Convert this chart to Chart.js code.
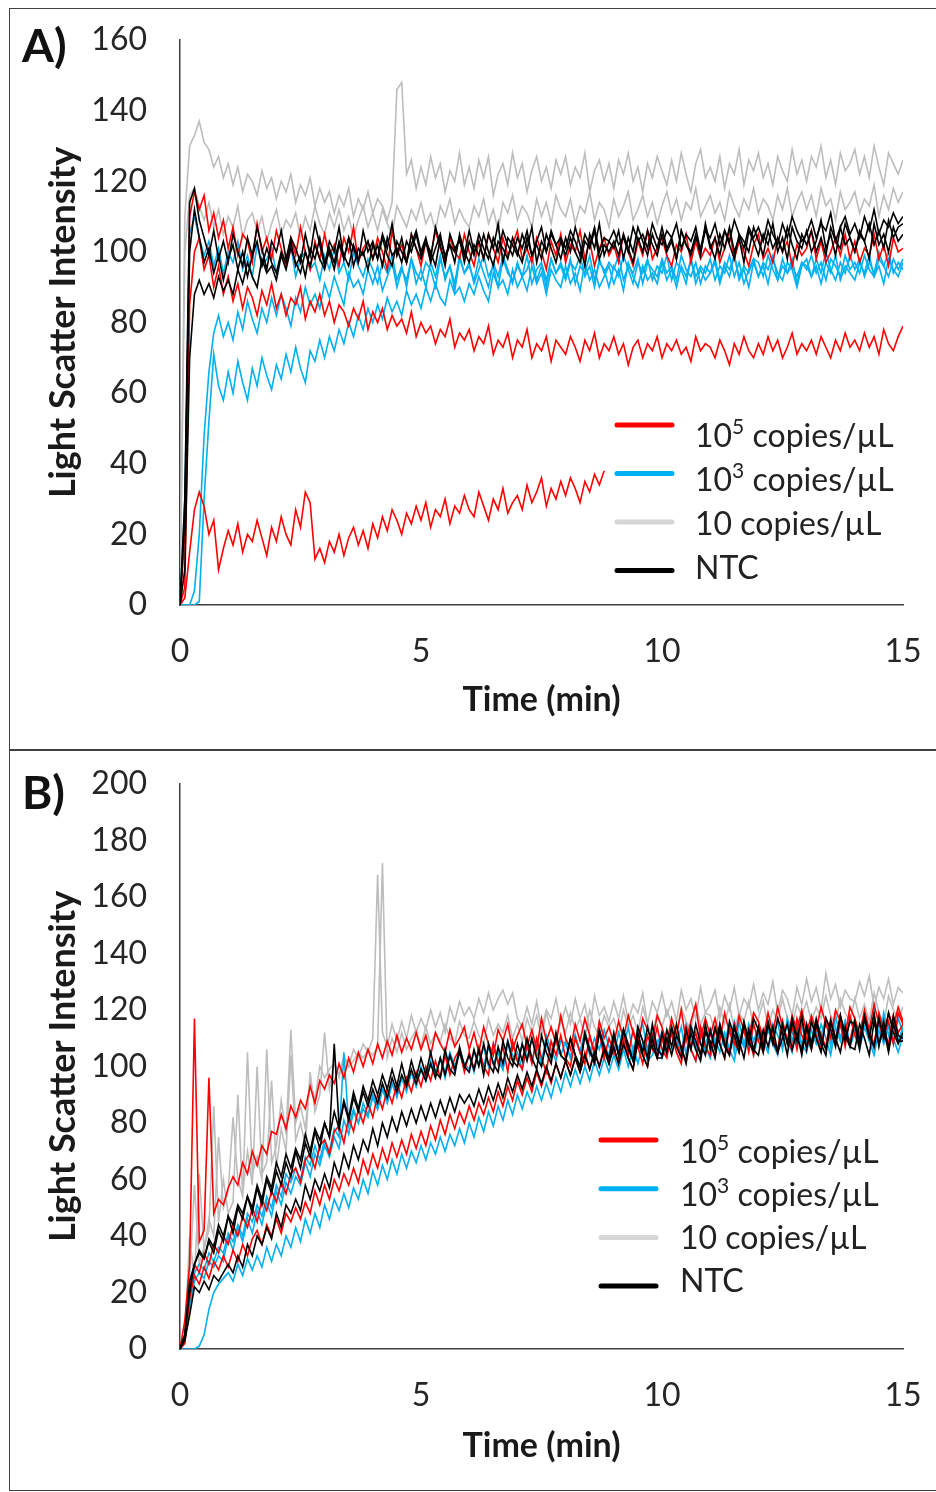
<!DOCTYPE html>
<html>
<head>
<meta charset="utf-8">
<script src="https://cdn.jsdelivr.net/npm/chart.js@4/dist/chart.umd.min.js"></script>
<style>
  body { margin: 0; width: 936px; height: 1492px; position: relative; background: #fff; overflow: hidden; font-family: Lato, "Open Sans", sans-serif; }
  .panel { position: absolute; left: 9px; width: 940px; border: 1.5px solid #404040; box-sizing: border-box; }
  .tag { position: absolute; left: 22px; font-size: 46px; font-weight: bold; line-height: 46px; color: #111; }
  canvas { position: absolute; left: 0; }
</style>
</head>
<body>
<div class="panel" style="top:8px;height:743px"></div>
<div class="panel" style="top:749px;height:742px"></div>
<canvas id="chartA" width="936" height="750" style="top:0"></canvas>
<canvas id="chartB" width="936" height="742" style="top:750px"></canvas>
<div class="tag" style="top:22px">A)</div>
<div class="tag" style="top:769px">B)</div>
<script>
// ---------------------------------------------------------------------------
// Light scatter intensity vs time, two panels (A and B), four sample groups.
// One reading every 0.1 min from 0 to 15 min (151 readings per trace).
// ---------------------------------------------------------------------------

const T_STEP = 0.1;
const N_PTS = 151;
const TIME = Array.from({ length: N_PTS }, (_, i) => Math.round(i * T_STEP * 10) / 10);

const X_TICKS = [0, 5, 10, 15];
const A_Y_TICKS = [0, 20, 40, 60, 80, 100, 120, 140, 160];
const B_Y_TICKS = [0, 20, 40, 60, 80, 100, 120, 140, 160, 180, 200];

const LEGEND_LABELS = ["10^5 copies/µL", "10^3 copies/µL", "10 copies/µL", "NTC"];

// ===== Panel A =====
// 10 copies/µL
const A_GRAY_1 = [
  0,110,130,133,137,131,129,124,127,121,
  125,119,124,117,122,120,116,123,118,121,
  115,120,117,122,114,119,116,121,113,118,
  114,117,111,116,113,118,110,115,112,117,
  111,115,113,109,114,146,148,122,126,118,
  124,119,127,121,125,117,123,120,128,119,
  124,118,126,121,127,116,122,125,119,128,
  121,125,117,123,127,120,124,118,126,122,
  127,119,124,121,128,117,123,126,120,125,
  118,126,122,128,120,124,117,125,121,127,
  123,119,126,120,128,122,117,125,129,121,
  124,120,127,118,125,122,129,119,126,123,
  128,121,125,119,127,123,120,129,122,126,
  120,127,124,130,121,126,119,128,123,125,
  129,122,127,121,130,124,119,128,125,122,
  126];
const A_GRAY_2 = [
  0,100,116,118,113,109,114,107,112,105,
  110,107,113,104,109,111,106,110,103,108,
  112,105,109,107,111,104,110,106,113,108,
  105,111,107,112,106,110,104,109,113,107,
  111,106,112,108,105,113,110,107,112,109,
  114,108,111,106,113,110,115,108,112,109,
  107,113,110,115,108,112,106,114,111,116,
  109,113,111,107,115,110,114,108,116,112,
  110,115,108,113,111,117,109,114,112,107,
  115,110,113,117,109,112,116,110,114,108,
  113,117,111,115,109,114,112,118,110,113,
  116,111,114,109,117,113,110,115,112,118,
  111,115,113,109,116,112,118,110,114,117,
  112,116,110,118,113,115,109,117,112,114,
  117,111,115,113,119,110,116,112,118,114,
  117];
// 10^5 copies/µL
const A_RED_1 = [
  0,20,110,117,112,116,106,111,104,109,
  101,107,99,105,103,97,108,100,104,98,
  106,101,96,104,99,107,100,95,103,98,
  105,99,102,96,104,100,107,97,101,103,
  98,104,100,95,106,99,102,97,105,101,
  96,103,99,106,101,97,104,100,98,105,
  100,96,103,98,105,101,97,104,99,102,
  106,98,101,97,104,100,95,103,99,105,
  97,102,100,106,98,103,96,101,104,99,
  102,97,105,100,96,103,99,106,98,101,
  104,99,96,102,100,105,97,103,98,101,
  99,104,97,101,106,98,103,100,96,102,
  105,98,101,97,104,100,103,96,102,99,
  101,106,98,103,97,100,104,99,105,98,
  103,97,101,99,105,98,102,96,104,100,
  101];
const A_RED_2 = [
  0,5,85,100,104,95,99,90,96,88,
  93,86,91,84,90,87,82,89,85,91,
  84,88,82,87,85,90,81,86,83,88,
  82,86,80,85,83,79,84,81,86,78,
  83,80,84,78,82,79,81,77,83,76,
  80,77,79,74,78,76,81,73,77,75,
  78,72,76,74,79,71,75,73,77,70,
  75,73,78,70,74,72,76,69,75,73,
  71,76,73,69,75,72,77,70,74,72,
  76,71,74,68,73,75,70,74,72,76,
  70,74,72,75,71,73,69,76,72,74,
  73,70,75,72,68,74,71,76,72,70,
  74,71,76,72,75,70,73,77,71,74,
  72,75,71,76,73,70,75,72,77,73,
  75,72,77,73,76,71,78,74,72,76,
  79];
// this trace stops at 8.8 min
const A_RED_3 = [
  0,2,15,27,32,28,20,24,10,16,
  21,17,23,15,20,18,24,19,14,22,
  18,25,20,17,27,22,32,29,13,16,
  12,18,15,20,14,19,22,17,21,16,
  23,19,25,21,27,24,20,26,23,28,
  24,29,22,27,25,30,23,28,26,31,
  27,25,32,28,24,30,27,33,26,29,
  31,27,34,29,32,36,28,33,30,35,
  31,36,33,29,35,32,37,34,38,
].concat(Array(62).fill(null));
// 10^3 copies/µL
const A_BLUE_1 = [
  0,30,105,110,104,99,103,96,101,94,
  100,97,103,95,99,93,102,96,98,101,
  94,99,96,102,93,98,100,95,97,92,
  99,95,101,94,97,92,100,96,93,98,
  95,91,97,94,99,92,96,90,98,94,
  92,97,95,90,98,93,96,91,99,94,
  96,92,98,94,90,97,93,99,95,91,
  97,93,95,99,92,96,90,98,94,97,
  93,98,91,96,94,99,92,97,95,90,
  96,93,99,95,91,97,94,98,92,96,
  94,99,92,97,95,91,98,93,96,94,
  98,92,96,94,99,93,97,91,95,98,
  93,97,95,99,92,96,94,98,91,97,
  96,93,98,94,100,95,92,97,94,99,
  95,98,93,97,94,100,96,93,98,95,
  98];
const A_BLUE_2 = [
  0,0,0,4,20,48,66,77,82,76,
  80,75,83,78,86,81,77,84,80,87,
  82,88,84,79,87,83,90,85,88,84,
  91,87,93,89,85,94,90,92,88,95,
  91,96,89,93,97,90,95,92,98,91,
  95,90,97,93,99,92,96,89,98,94,
  97,91,95,99,93,96,90,98,94,92,
  96,93,99,91,95,97,92,98,94,96,
  92,97,95,99,93,96,90,98,94,97,
  95,99,92,96,94,98,91,97,95,93,
  98,94,96,92,99,95,93,97,91,96,
  94,98,92,97,95,99,93,96,94,98,
  97,93,99,95,92,98,94,96,93,97,
  95,99,94,97,92,98,96,93,99,95,
  97,94,99,95,93,98,96,100,94,97,
  95];
const A_BLUE_3 = [
  0,0,0,0,1,30,52,71,62,58,
  66,60,69,63,58,67,62,70,65,61,
  68,64,71,66,73,67,63,72,69,75,
  70,76,72,78,74,80,76,82,78,84,
  80,85,81,87,83,86,82,89,85,88,
  84,90,86,91,87,85,92,88,90,86,
  91,88,93,89,86,94,90,92,88,95,
  90,93,89,96,91,94,88,95,92,90,
  96,91,94,89,97,92,95,90,93,96,
  91,95,89,97,93,90,96,92,94,91,
  97,92,95,90,96,93,98,91,95,92,
  94,97,91,96,93,99,92,95,90,97,
  93,96,91,98,94,92,97,95,90,96,
  98,93,96,91,97,94,99,92,96,94,
  92,97,94,99,93,96,91,98,95,93,
  97];
// NTC
const A_BLACK_1 = [
  0,30,114,118,109,104,99,106,98,103,
  97,105,100,96,104,99,107,101,95,103,
  100,106,98,104,101,97,105,99,108,102,
  96,103,100,107,98,104,101,97,106,100,
  103,98,105,101,108,99,104,97,102,106,
  100,104,98,107,102,96,105,101,103,99,
  106,100,103,98,105,101,108,97,104,102,
  99,105,101,107,97,103,100,106,102,98,
  104,100,107,102,96,105,101,108,99,103,
  101,106,98,104,100,107,103,99,105,101,
  107,101,104,98,106,102,100,105,99,108,
  102,98,105,101,107,100,104,97,106,103,
  99,105,102,108,100,104,98,107,103,101,
  106,100,103,109,101,105,99,107,102,104,
  100,106,103,98,108,102,105,100,107,103,
  105];
const A_BLACK_2 = [
  0,10,70,88,92,88,91,87,93,89,
  92,88,95,91,97,93,90,98,94,96,
  92,99,95,101,97,94,100,96,102,98,
  95,101,97,103,99,96,102,98,100,95,
  102,98,104,99,96,103,100,97,105,101,
  98,103,100,96,104,99,102,97,105,100,
  97,102,99,105,100,96,103,101,98,104,
  100,97,104,99,102,98,105,101,97,103,
  99,104,100,97,103,101,106,98,102,100,
  103,99,105,101,97,104,100,106,102,99,
  105,100,103,98,106,102,99,104,101,107,
  101,104,99,106,102,98,105,103,100,107,
  103,99,106,101,104,100,107,102,98,105,
  102,106,100,104,99,107,103,101,108,104,
  100,105,103,108,102,106,101,109,104,107,
  108];
const A_BLACK_3 = [
  0,25,100,112,104,97,101,94,99,92,
  98,102,95,100,93,99,103,96,101,97,
  94,100,97,103,96,99,93,101,98,104,
  97,100,95,102,98,104,96,101,99,103,
  98,102,96,104,99,101,97,103,100,105,
  99,103,97,101,105,98,102,100,104,97,
  103,99,105,101,98,104,100,106,102,99,
  104,101,106,99,103,107,100,105,102,104,
  101,106,103,99,105,102,107,100,104,103,
  106,102,104,100,107,103,105,101,108,104,
  102,106,104,108,101,105,103,107,100,106,
  104,108,102,106,103,109,105,101,107,104,
  107,103,109,105,102,108,104,110,106,103,
  105,109,104,108,106,111,103,107,110,105,
  108,104,110,106,112,105,109,107,111,108,
  110];

// ===== Panel B =====
const B_GRAY_1 = [
  0,5,25,58,30,36,42,86,45,60,
  48,52,90,55,70,58,100,62,66,95,
  64,78,70,104,74,80,72,98,84,90,
  112,92,102,96,104,100,106,103,108,105,
  110,168,112,107,115,109,116,110,118,112,
  117,113,120,114,119,112,121,116,123,118,
  121,117,124,119,126,120,124,127,122,126,
  117,114,121,115,123,113,120,117,124,115,
  121,115,124,117,122,113,125,118,121,116,
  123,117,125,116,122,119,126,115,123,119,
  126,118,123,116,127,120,124,117,128,119,
  122,127,117,125,120,128,118,124,121,129,
  120,126,122,130,119,127,124,118,128,122,
  131,123,128,120,133,124,129,121,127,124,
  123,130,125,132,121,128,124,131,122,128,
  126];
const B_GRAY_2 = [
  0,4,40,25,62,35,46,40,75,50,
  56,82,60,54,105,62,68,60,106,66,
  72,88,76,113,80,86,78,95,88,100,
  96,99,101,97,103,100,102,105,103,106,
  104,107,172,103,110,105,112,106,110,113,
  107,114,108,112,109,115,110,108,116,111,
  110,116,111,108,117,111,115,112,118,110,
  115,109,117,112,118,110,119,113,110,117,
  112,119,113,117,110,120,114,111,118,114,
  117,111,120,114,118,112,121,115,111,119,
  114,120,115,111,121,116,113,122,115,119,
  118,112,121,115,122,113,119,116,123,114,
  117,123,114,120,116,124,117,114,122,118,
  123,116,121,117,125,118,115,124,119,116,
  124,117,122,116,126,119,115,125,120,117,
  121];
const B_RED_1 = [
  0,10,30,117,38,42,96,48,53,51,
  57,61,58,66,62,70,65,72,69,77,
  76,83,78,86,82,88,85,93,87,95,
  92,97,94,101,96,103,98,105,100,106,
  101,108,103,109,104,111,105,110,106,112,
  106,111,104,112,108,105,113,107,110,114,
  106,112,105,114,108,104,113,109,115,106,
  111,115,107,113,106,117,109,114,108,118,
  110,106,115,109,117,111,105,116,110,114,
  108,116,110,118,112,107,117,113,109,118,
  114,108,117,111,120,109,116,122,110,117,
  111,117,109,119,112,108,118,113,110,119,
  116,110,119,112,121,114,109,118,113,120,
  112,118,113,121,115,110,120,116,111,121,
  117,111,120,113,122,115,110,119,114,121,
  116];
const B_RED_2 = [
  0,5,22,30,27,34,30,37,34,40,
  37,44,40,47,43,50,45,53,49,56,
  52,59,55,62,64,59,67,69,64,72,
  74,69,77,79,73,82,77,85,80,87,
  82,90,85,92,87,94,89,96,91,98,
  93,100,95,102,96,104,97,103,106,98,
  105,99,107,100,97,108,101,107,98,109,
  102,99,108,101,110,103,98,109,104,111,
  103,100,110,105,101,111,104,112,103,110,
  105,102,112,104,113,107,101,111,106,114,
  106,103,113,108,104,114,107,112,104,113,
  108,104,114,109,105,115,108,113,105,115,
  109,105,115,110,106,116,109,114,106,116,
  110,106,116,111,107,117,110,115,107,118,
  111,107,117,112,108,118,111,116,108,119,
  115];
const B_RED_3 = [
  0,2,18,26,23,29,25,31,28,33,
  29,35,31,37,33,39,42,37,44,40,
  46,41,48,45,50,46,52,48,56,51,
  58,53,60,56,62,58,64,59,67,62,
  69,64,71,66,73,68,74,69,76,71,
  77,72,79,74,81,76,83,78,84,80,
  86,81,87,83,89,84,91,86,93,88,
  95,90,96,91,98,93,99,94,101,96,
  102,97,103,98,105,99,106,100,107,102,
  106,101,109,103,99,110,104,100,111,103,
  110,104,112,105,101,113,106,102,114,107,
  104,113,108,103,114,109,105,115,110,104,
  114,108,115,110,105,116,109,106,117,111,
  107,116,111,106,117,113,108,118,112,109,
  117,110,118,112,107,119,113,108,118,112,
  115];
const B_BLUE_1 = [
  0,3,18,27,30,28,34,31,36,34,
  41,38,44,40,48,45,51,47,54,50,
  58,54,62,59,64,60,68,65,72,67,
  74,70,78,75,105,79,85,80,87,83,
  89,85,92,87,94,89,96,91,98,93,
  99,95,102,97,103,98,105,100,106,101,
  99,105,101,107,100,108,102,99,109,104,
  102,108,103,110,105,101,111,106,102,109,
  108,103,111,105,112,107,102,113,108,104,
  111,106,113,107,104,114,109,105,113,108,
  112,107,114,109,105,115,110,106,114,108,
  113,108,115,110,106,116,111,107,115,109,
  114,109,105,115,111,107,116,112,108,114,
  109,116,112,107,117,111,108,115,110,116,
  113,108,117,111,106,116,110,114,108,117,
  112];
const B_BLUE_2 = [
  0,0,0,0,1,5,14,20,23,25,
  27,24,30,26,32,28,33,29,36,31,
  37,33,40,36,43,38,46,41,48,43,
  51,46,53,49,55,50,57,53,60,55,
  63,58,65,60,67,62,69,64,70,66,
  72,67,73,69,75,70,76,72,78,73,
  80,75,82,77,84,79,86,81,88,83,
  90,85,91,87,93,88,94,89,96,91,
  98,93,99,94,100,95,102,97,103,98,
  104,99,106,100,107,101,108,102,104,109,
  103,109,105,111,104,110,106,102,112,107,
  103,110,105,112,106,102,111,107,113,104,
  111,106,113,108,104,114,109,105,115,108,
  105,113,108,115,110,104,114,109,116,107,
  112,106,114,109,104,113,108,115,110,105,
  111];
const B_BLUE_3 = [
  0,3,15,24,27,25,31,29,33,31,
  40,35,43,38,46,41,49,44,52,47,
  56,51,59,55,61,58,66,61,69,65,
  72,68,75,71,81,76,84,80,85,82,
  90,85,92,88,94,90,96,92,98,93,
  100,95,101,97,103,96,104,98,105,99,
  104,98,106,100,107,101,105,99,108,102,
  105,99,107,102,109,100,108,103,110,104,
  109,103,111,105,112,104,110,106,113,107,
  104,112,107,114,105,111,115,106,113,104,
  112,106,113,108,114,104,115,107,113,105,
  113,107,114,109,115,105,116,108,114,106,
  114,108,115,110,116,106,117,109,115,107,
  115,109,116,111,117,107,118,110,116,108,
  116,110,117,112,118,108,119,111,117,109,
  114];
const B_BLACK_1 = [
  0,5,24,30,34,32,39,36,44,40,
  47,44,51,48,54,50,58,53,61,57,
  66,61,69,64,71,67,76,70,78,74,
  80,75,84,78,87,81,89,84,91,86,
  92,87,94,89,96,91,97,93,99,94,
  99,95,101,96,103,97,104,99,105,100,
  104,99,106,97,108,101,98,109,103,100,
  108,102,110,103,99,111,105,101,112,104,
  102,110,104,100,112,106,101,113,107,103,
  112,104,113,108,102,114,109,103,115,106,
  104,113,107,115,106,102,114,109,104,115,
  106,114,108,103,116,111,105,115,108,117,
  113,105,115,108,117,112,104,116,109,118,
  106,116,110,105,117,113,107,118,109,116,
  115,106,117,110,119,107,116,106,118,111,
  110];
const B_BLACK_2 = [
  0,3,12,22,20,24,21,26,24,27,
  30,27,33,29,37,33,40,37,43,39,
  48,43,51,48,53,49,58,53,60,56,
  62,57,66,61,69,64,72,67,74,70,
  78,72,80,75,82,77,84,79,85,80,
  86,81,87,82,88,83,89,84,90,87,
  90,86,92,87,93,88,94,89,96,91,
  97,92,98,93,99,94,100,95,101,96,
  102,97,103,98,104,99,105,100,106,101,
  107,101,108,103,99,109,104,100,110,103,
  103,110,104,111,107,101,112,106,102,112,
  109,103,113,107,104,114,109,103,113,106,
  104,113,107,114,105,110,115,106,112,104,
  114,106,115,108,104,116,110,105,114,107,
  106,115,110,104,116,108,113,105,115,109,
  109];
const B_BLACK_3 = [
  0,5,20,30,35,32,38,34,42,38,
  47,41,50,46,54,48,57,51,60,55,
  63,58,66,61,70,64,73,68,77,71,
  80,75,108,79,88,82,91,85,93,88,
  95,90,97,92,99,93,101,94,102,96,
  103,97,105,98,96,106,99,97,107,100,
  98,106,100,108,101,98,107,101,109,102,
  100,108,102,110,103,100,109,103,111,104,
  102,110,104,100,111,105,102,112,106,101,
  111,104,113,106,102,112,105,114,107,103,
  112,105,114,107,103,113,106,115,108,104,
  113,106,115,108,104,114,107,116,109,105,
  114,107,116,109,105,115,108,117,110,106,
  115,108,117,110,106,116,109,118,111,107,
  116,109,118,111,107,117,110,119,112,108,
  112];

const COLORS = { red: "#FF0000", blue: "#00B0F0", gray: "#BDBDBD", black: "#000000" };
const LEGEND_COLORS = [COLORS.red, COLORS.blue, "#D6D6D6", COLORS.black];

// --- legend drawn inside the plot, with a superscript for "10^n" --------------

const sketchLegend = {
  id: "sketchLegend",
  afterDraw(chart, args, o) {
    if (!o || o.x0 == null) return;
    const ctx = chart.ctx;
    ctx.save();
    LEGEND_LABELS.forEach((label, i) => {
      const ly = o.lineY + i * o.lineGap;
      ctx.strokeStyle = LEGEND_COLORS[i];
      ctx.lineWidth = 5;
      ctx.lineCap = "round";
      ctx.beginPath();
      ctx.moveTo(o.x0, ly);
      ctx.lineTo(o.x1, ly);
      ctx.stroke();

      const ty = o.textY + i * o.textGap;
      let x = o.textX;
      ctx.fillStyle = "#222";
      ctx.textAlign = "left";
      ctx.textBaseline = "middle";
      const m = label.match(/^(.*?)\^(\S)(.*)$/);
      const parts = m ? [[m[1], 0], [m[2], 1], [m[3], 0]] : [[label, 0]];
      parts.forEach(([txt, sup]) => {
        ctx.font = sup ? "21px Lato, 'Open Sans', sans-serif" : "32px Lato, 'Open Sans', sans-serif";
        ctx.fillText(txt, x, sup ? ty - 10 : ty);
        x += ctx.measureText(txt).width;
      });
    });
    ctx.restore();
  },
};

Chart.defaults.font.family = "Lato, 'Open Sans', sans-serif";

function buildChart(id, series, yMax, yTicks, lay) {
  return new Chart(document.getElementById(id), {
    type: "line",
    data: {
      labels: TIME,
      datasets: series.map(([data, color]) => ({
        data, borderColor: color, borderWidth: 1.6, pointRadius: 0,
        tension: 0, fill: false, spanGaps: false,
      })),
    },
    options: {
      responsive: false,
      animation: false,
      devicePixelRatio: 1,
      events: [],
      layout: { padding: { top: lay.top, right: 33, left: 0, bottom: 0 } },
      plugins: { legend: { display: false }, tooltip: { enabled: false }, sketchLegend: lay.legend },
      scales: {
        x: {
          type: "linear", min: 0, max: 15,
          grid: { display: false, drawTicks: false },
          border: { display: true, color: "#404040", width: 1.5 },
          afterBuildTicks: (s) => { s.ticks = X_TICKS.map((v) => ({ value: v })); },
          ticks: { padding: 27, font: { size: 32 }, color: "#262626", maxRotation: 0 },
          title: { display: true, text: "Time (min)", color: "#1a1a1a",
            font: { size: 34, weight: "bold" }, padding: { top: 0, bottom: lay.xTitlePad } },
          // fixed axis size; label overhang is already inside the layout padding
          afterFit: (s) => { s.height = lay.xHeight; s.paddingLeft = 0; s.paddingRight = 0; },
        },
        y: {
          type: "linear", min: 0, max: yMax,
          grid: { display: false, drawTicks: false },
          border: { display: true, color: "#404040", width: 1.5 },
          afterBuildTicks: (s) => { s.ticks = yTicks.map((v) => ({ value: v })); },
          ticks: { padding: 33, font: { size: 32 }, color: "#262626" },
          title: { display: true, text: "Light Scatter Intensity", color: "#1a1a1a",
            font: { size: 36, weight: "bold" }, padding: { top: 42, bottom: 0 } },
          afterFit: (s) => { s.width = 180; s.paddingTop = 0; s.paddingBottom = 0; },
        },
      },
    },
    plugins: [sketchLegend],
  });
}

// dataset order = drawing order from top to bottom
buildChart("chartA", [
  [A_BLACK_1, COLORS.black], [A_BLACK_2, COLORS.black], [A_BLACK_3, COLORS.black],
  [A_RED_1, COLORS.red], [A_RED_2, COLORS.red], [A_RED_3, COLORS.red],
  [A_BLUE_1, COLORS.blue], [A_BLUE_2, COLORS.blue], [A_BLUE_3, COLORS.blue],
  [A_GRAY_1, COLORS.gray], [A_GRAY_2, COLORS.gray],
], 160, A_Y_TICKS, {
  top: 40, xHeight: 145, xTitlePad: 30,
  legend: { x0: 617, x1: 672, lineY: 425, lineGap: 48.5, textX: 695, textY: 437, textGap: 44 },
});

buildChart("chartB", [
  [B_BLACK_1, COLORS.black], [B_BLACK_2, COLORS.black], [B_BLACK_3, COLORS.black],
  [B_RED_1, COLORS.red], [B_RED_2, COLORS.red], [B_RED_3, COLORS.red],
  [B_BLUE_1, COLORS.blue], [B_BLUE_2, COLORS.blue], [B_BLUE_3, COLORS.blue],
  [B_GRAY_1, COLORS.gray], [B_GRAY_2, COLORS.gray],
], 200, B_Y_TICKS, {
  top: 34, xHeight: 143, xTitlePad: 26,
  legend: { x0: 601, x1: 656, lineY: 390, lineGap: 48.7, textX: 680, textY: 403, textGap: 43 },
});
</script>
</body>
</html>
